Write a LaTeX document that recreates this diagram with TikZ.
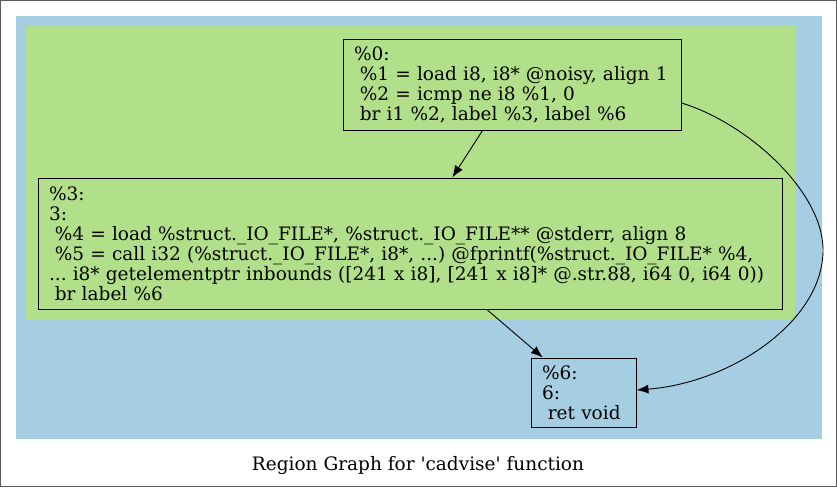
\documentclass[tikz,border=0pt]{standalone}
\usepackage{fontspec}
\setmainfont{DejaVu Serif}
\newfontfamily\capfont{DejaVu Serif}[Ligatures=TeXOff]
\frenchspacing
\usetikzlibrary{arrows.meta}
\definecolor{bluefill}{HTML}{A6CEE3}
\definecolor{greenfill}{HTML}{B2DF8A}
\tikzset{
  blk/.style={draw=black, line width=0.9pt, rectangle, align=left, inner xsep=11pt, inner ysep=0pt,
    font=\fontsize{18.5}{20}\selectfont, anchor=center},
  edge/.style={draw=black, line width=0.9pt, -{Latex[length=12pt,width=9pt]}}
}
\newcommand{\lsp}{\hspace*{0.318em}}
\begin{document}
\begin{tikzpicture}[x=1pt,y=-1pt]
\useasboundingbox (0,0) rectangle (837,487);
\draw[draw=gray!70!black, line width=0.8pt] (0.5,0.5) rectangle (836.5,486.5);
\fill[bluefill] (16,16) rectangle (822,439);
\fill[greenfill] (26,26) rectangle (795,320);
\node[blk, fill=greenfill, minimum width=338pt, minimum height=91pt, text width=316pt] (n0) at (512,84.5)
 {\%0:\\\lsp\%1 = load i8, i8* @noisy, align 1\\\lsp\%2 = icmp ne i8 \%1, 0\\\lsp br i1 \%2, label \%3, label \%6};
\node[blk, fill=greenfill, minimum width=744pt, minimum height=131pt, text width=722pt] (n3) at (410,243.5)
 {\%3:\\3:\\\lsp\%4 = load \%struct.\_IO\_FILE*, \%struct.\_IO\_FILE** @stderr, align 8\\\lsp\%5 = call i32 (\%struct.\_IO\_FILE*, i8*, ...) @fprintf(\%struct.\_IO\_FILE* \%4,\\... i8* getelementptr inbounds ([241 x i8], [241 x i8]* @.str.88, i64 0, i64 0))\\\lsp br label \%6};
\node[blk, fill=bluefill, minimum width=105pt, minimum height=69pt, text width=83pt] (n6) at (583.5,392.5)
 {\%6:\\6:\\\lsp ret void};
\node[font=\capfont\fontsize{18.5}{20}\selectfont] (cap) at (418,466) {Region Graph for 'cadvise' function};
\draw[edge] (n0) -- (n3);
\draw[edge] (n3) -- (n6);
\draw[edge] ([yshift=-18.5pt]n0.east) .. controls (745,122) and (823,190) .. (823,250)
  .. controls (823,322) and (730,383) .. ([yshift=2.5pt]n6.east);
\end{tikzpicture}
\end{document}
